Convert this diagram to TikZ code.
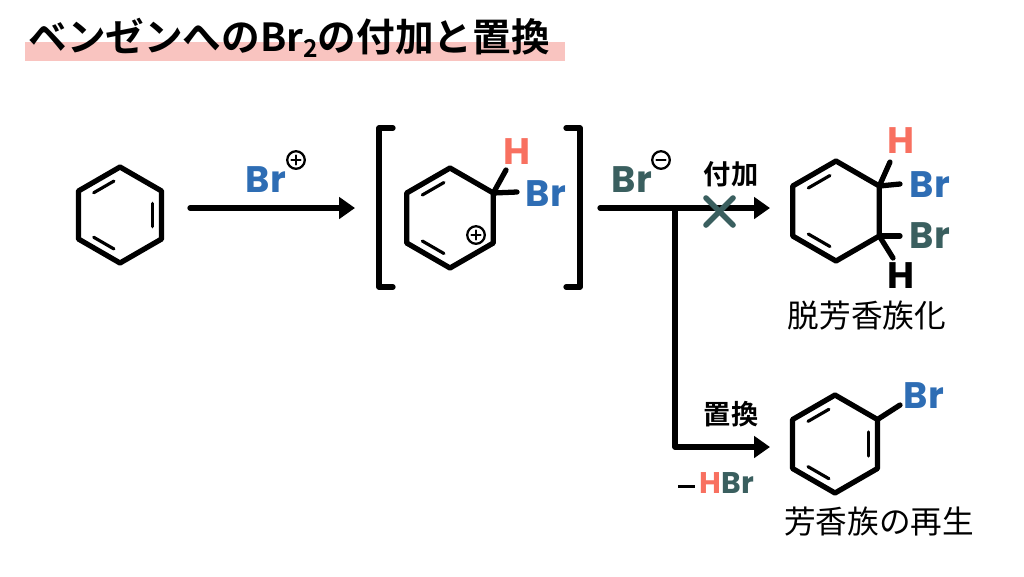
\documentclass[tikz,border=0pt]{standalone}
\usepackage{fontspec}
\usetikzlibrary{calc,arrows.meta}
\setmainfont{Noto Sans CJK JP}
\newfontfamily\jpb{Noto Sans CJK JP Bold}
\newfontfamily\pop{Poppins Bold}
\definecolor{hred}{HTML}{F87060}
\definecolor{bblue}{HTML}{2E6DB4}
\definecolor{teal2}{HTML}{3A5F5F}
\definecolor{pinkbar}{HTML}{F9C4C0}
\begin{document}
\begin{tikzpicture}[x=0.02cm,y=-0.02cm,line join=round,line cap=round,
  bond/.style={line width=3pt},
  inner/.style={line width=1.8pt,shorten <=4pt,shorten >=4pt},
  arr/.style={line width=3pt,-{Triangle[length=9pt,width=12pt]}},
  lab/.style={font=\pop\fontsize{21}{21}\selectfont,inner sep=0pt},
  jl/.style={font=\jpb\fontsize{15.5}{16}\selectfont,inner sep=0pt},
  jn/.style={font=\fontsize{18}{18}\selectfont,inner sep=0pt},
  chg/.style={circle,draw,line width=1.3pt,minimum size=10pt,inner sep=0pt},
  chgplus/.style={chg,path picture={\draw[line width=1.2pt] ([xshift=-2.6pt]path picture bounding box.center) -- ([xshift=2.6pt]path picture bounding box.center) ([yshift=-2.6pt]path picture bounding box.center) -- ([yshift=2.6pt]path picture bounding box.center);}},
  chgminus/.style={chg,path picture={\draw[line width=1.2pt] ([xshift=-2.6pt]path picture bounding box.center) -- ([xshift=2.6pt]path picture bounding box.center);}}]
\useasboundingbox (0,0) rectangle (1024,576);
\fill[pinkbar] (25,42) rectangle (565,61);
\node[anchor=west,font=\jpb\fontsize{22}{22}\selectfont,inner sep=0pt] (title) at (28,38) {ベンゼンへのBr\raisebox{-0.3ex}{\fontsize{14}{14}\selectfont 2}の付加と置換};
% benzene 1
\coordinate (c9) at (120,215);
\foreach \n/\a in {1/90,2/30,3/-30,4/-90,5/-150,6/150}{\coordinate (a\n) at ($(c9)+(\a:48 and -48)$);}
\draw[bond] (a1)--(a2)--(a3)--(a4)--(a5)--(a6)--cycle;
\foreach \p/\q in {6/1,2/3,4/5}{\draw[inner] ($(c9)!0.78!(a\p)$) -- ($(c9)!0.78!(a\q)$);}
\draw[arr] (190,208) coordinate (s1) -- (355,208) coordinate (e1);
\node[lab,text=bblue] (brp) at (266,180) {Br};
\node[chgplus] (pp) at (296,160) {};
% brackets
\draw[bond] (393,128) -- (379,128) -- (379,287) -- (393,287);
\draw[bond] (566,128) -- (580,128) -- (580,287) -- (566,287);
% intermediate
\coordinate (c0) at (450,218);
\foreach \n/\a in {1/90,2/30,3/-30,4/-90,5/-150,6/150}{\coordinate (b\n) at ($(c0)+(\a:50 and -50)$);}
\draw[bond] (b1)--(b2)--(b3)--(b4)--(b5)--(b6)--cycle;
\foreach \p/\q in {6/1,4/5}{\draw[inner] ($(c0)!0.78!(b\p)$) -- ($(c0)!0.78!(b\q)$);}
\draw[bond] (b2) -- (506,170) coordinate (hb);
\draw[bond] (b2) -- (517,192) coordinate (brb);
\node[lab,text=hred] (h1) at (517,152) {H};
\node[lab,text=bblue] (br1) at (546,194) {Br};
\node[chgplus] (pl) at (476,235) {};
% arrows
\draw[arr] (600,208) coordinate (s2) -- (770,208) coordinate (e2);
\draw[arr] (675,208) coordinate (j) -- (675,447) coordinate (k) -- (770,447) coordinate (e3);
\node[lab,text=teal2] (brm) at (632,180) {Br};
\node[chgminus] (mm) at (661,160) {};
\node[jl] (fuka) at (731,174) {付加};
\draw[line width=3.2pt,teal2] (706,198) coordinate (x1) -- (733,225) coordinate (x2);
\draw[line width=3.2pt,teal2] (733,198) coordinate (x3) -- (706,225) coordinate (x4);
\node[jl] (chikan) at (731,414) {置換};
\node[lab,font=\pop\fontsize{17}{17}\selectfont] (hbr) at (716,483) {\textcolor{black}{\rule[0.3ex]{0.55em}{0.12em}}\,\textcolor{hred}{H}\textcolor{teal2}{Br}};
% product 1
\coordinate (c1) at (836,211);
\foreach \n/\a in {1/90,2/30,3/-30,4/-90,5/-150,6/150}{\coordinate (d\n) at ($(c1)+(\a:50 and -50)$);}
\draw[bond] (d1)--(d2)--(d3)--(d4)--(d5)--(d6)--cycle;
\foreach \p/\q in {6/1,4/5}{\draw[inner] ($(c1)!0.78!(d\p)$) -- ($(c1)!0.78!(d\q)$);}
\draw[bond] (d2) -- (890,162) coordinate (hd1);
\draw[bond] (d2) -- (900,184) coordinate (bd1);
\draw[bond] (d3) -- (900,236) coordinate (bd2);
\draw[bond] (d3) -- (893,258) coordinate (hd2);
\node[lab,text=hred] (h2) at (901,141) {H};
\node[lab,text=bblue] (br2) at (930,185) {Br};
\node[lab,text=teal2] (br3) at (930,236) {Br};
\node[lab,text=black] (h3) at (901,276) {H};
\node[jn] (datsu) at (867,316) {脱芳香族化};
% product 2
\coordinate (c2) at (835,444);
\foreach \n/\a in {1/90,2/30,3/-30,4/-90,5/-150,6/150}{\coordinate (f\n) at ($(c2)+(\a:49 and -49)$);}
\draw[bond] (f1)--(f2)--(f3)--(f4)--(f5)--(f6)--cycle;
\foreach \p/\q in {6/1,2/3,4/5}{\draw[inner] ($(c2)!0.78!(f\p)$) -- ($(c2)!0.78!(f\q)$);}
\draw[bond] (f2) -- (900,405) coordinate (bf);
\node[lab,text=bblue] (br4) at (924,396) {Br};
\node[jn] (sai) at (879,521) {芳香族の再生};
\end{tikzpicture}
\end{document}
